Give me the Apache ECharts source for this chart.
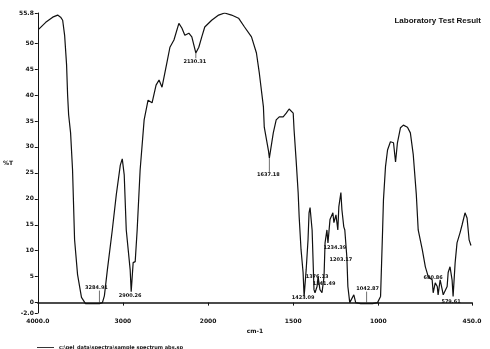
<!DOCTYPE html>
<html>
<head>
<meta charset="utf-8">
<script src="https://cdn.jsdelivr.net/npm/echarts@6/dist/echarts.min.js"></script>
<style>
  html, body { margin: 0; padding: 0; background: #fff; }
  #chart { width: 490px; height: 349px; }
</style>
</head>
<body>
<div id="chart"></div>
<script>
// spectrum (wavenumber cm-1, %T)
var wavenumbers = [3988, 3907, 3825, 3767, 3732, 3708, 3685, 3662, 3650, 3638, 3615, 3592, 3568, 3533, 3487, 3440, 3358, 3276, 3241, 3218, 3183, 3125, 3078, 3031, 3008, 2985, 2961, 2915, 2903, 2880, 2856, 2833, 2798, 2751, 2705, 2658, 2611, 2576, 2541, 2483, 2448, 2401, 2343, 2308, 2273, 2226, 2191, 2144, 2109, 2074, 2039,
  1979, 1938, 1903, 1862, 1821, 1786, 1745, 1716, 1699, 1675, 1670, 1646, 1640, 1617, 1600, 1582, 1559, 1541, 1524, 1500, 1495, 1483, 1471, 1465, 1454, 1442, 1436, 1424, 1413, 1407, 1401, 1389, 1378, 1372, 1360, 1354, 1343, 1331, 1319, 1313, 1302, 1296, 1284, 1267, 1261, 1249, 1238, 1232, 1220, 1214, 1203, 1197, 1185, 1179, 1168, 1144, 1133, 1104, 1069, 1034, 1005, 987, 975, 970, 958, 946, 929, 911, 899, 888, 870, 853, 829, 812, 795, 777, 766, 742, 724, 707, 684, 678, 666, 654, 649, 637, 625, 619, 596, 590, 579, 567, 561, 549, 538, 520, 508, 491, 479, 467, 456];
var transmittance = [52.7, 54.0, 55.0, 55.4, 55.0, 54.4, 51.5, 45.8, 40.0, 36.2, 32.7, 25.6, 12.1, 5.4, 1.0, -0.2, -0.2, -0.2, 0, 1.3, 6.3, 14.0, 20.8, 26.5, 27.7, 24.6, 14.0, 6.3, 2.1, 7.7, 7.9, 14.0, 25.6, 35.2, 39.0, 38.5, 41.9, 42.9, 41.5, 46.3, 49.2, 50.6, 53.8, 52.9, 51.5, 51.9, 51.2, 48.1, 49.2, 51.2, 53.1,
  54.4, 55.4, 55.8, 55.4, 54.8, 53.1, 51.2, 48.1, 44.2, 37.7, 33.8, 29.4, 27.9, 32.7, 35.2, 35.8, 35.8, 36.5, 37.3, 36.5, 33.3, 27.5, 21.2, 16.5, 10.2, 5.8, 1.2, 6.3, 12.1, 17.3, 18.3, 14.0, 2.5, 1.9, 3.1, 5.0, 2.5, 1.9, 5.0, 11.5, 14.0, 11.5, 16.0, 17.3, 15.4, 16.9, 14.0, 18.5, 21.2, 17.9, 14.6, 14.0, 8.8, 3.1, 0, 1.5, 0, -0.2, -0.2, -0.2, 0, 1.2, 14.0, 19.8, 26.2, 29.4, 31.0, 30.8, 27.1, 30.8, 33.7, 34.2, 33.8, 32.7, 28.5, 20.8, 14.0, 10.2, 6.9, 5.0, 4.4, 1.9, 3.8, 3.1, 1.5, 4.4, 2.5, 1.5, 3.1, 5.8, 6.9, 4.4, 1.2, 7.7, 11.5, 13.5, 15.0, 17.3, 16.3, 12.1, 11.0];

// peak annotations: text, text position, and tick from curve (null = no tick)
var peakLabels = ['3284.91', '2900.26', '2130.31', '1637.18', '1423.09', '1376.13', '1341.49', '1234.39', '1203.17', '1042.87', '680.86', '579.61'];
var peakTextWn = [3311, 2915, 2156, 1646, 1442, 1360, 1319, 1255, 1220, 1063, 678, 573];
var peakTextT = [2.9, 1.3, 46.5, 24.6, 1.0, 5.0, 3.7, 10.6, 8.3, 2.7, 4.8, 0.2];
var peakTickWn = [3276, null, 2144, 1640, null, null, null, null, null, 1069, null, null];
var peakTickT = [-0.2, null, 48.1, 27.9, null, null, null, null, null, -0.2, null, null];

var xTickWn = [4000, 3000, 2000, 1500, 1000, 450];
var xTickText = ['4000.0', '3000', '2000', '1500', '1000', '450.0'];
var yTicks = [-2, 0, 5, 10, 15, 20, 25, 30, 35, 40, 45, 50, 55.8];

var fileName = 'c:\\pel_data\\spectra\\sample spectrum abs.sp';

// axis is 1x above 2000 cm-1 and 2x below it
function toU(wn) {
	return wn >= 2000 ? 4000 - wn : 2000 + (2000 - wn) * 2;
}

var chart = echarts.init(document.getElementById('chart'));

var lineData = wavenumbers.map(function (wn, i) {
	return [toU(wn), transmittance[i]];
});
var peakData = peakLabels.map(function (txt, i) {
	return [toU(peakTextWn[i]), peakTextT[i], peakTickWn[i] == null ? null : toU(peakTickWn[i]), peakTickT[i], txt];
});
var xTickU = xTickWn.map(toU);

var option = {
	animation: false,
	backgroundColor: '#fff',
	title: {
		text: 'Laboratory Test Result',
		right: 4,
		top: 12,
		textStyle: { fontSize: 8, fontWeight: 'bold', color: '#111', fontFamily: 'Liberation Sans' }
	},
	legend: {
		left: 32,
		top: 340,
		itemWidth: 17,
		itemHeight: 6,
		itemGap: 4,
		data: [{ name: fileName, icon: 'path://M0,5L20,5L20,6L0,6Z' }],
		textStyle: { fontSize: 5, fontWeight: 'bold', color: '#111', fontFamily: 'DejaVu Sans' }
	},
	grid: { left: 35, right: 18, top: 13, bottom: 36 },
	xAxis: {
		type: 'value',
		min: 0,
		max: 5100,
		name: 'cm-1',
		nameLocation: 'middle',
		nameGap: 14,
		nameTextStyle: { fontSize: 6, fontWeight: 'bold', color: '#111', fontFamily: 'DejaVu Sans' },
		axisLine: { lineStyle: { color: '#111', width: 1.5 } },
		axisTick: { length: 3, customValues: xTickU, lineStyle: { color: '#111' } },
		axisLabel: {
			customValues: xTickU,
			fontSize: 6,
			fontWeight: 'bold',
			color: '#111',
			margin: 5,
			fontFamily: 'DejaVu Sans',
			formatter: function (v) {
				var i = xTickU.indexOf(v);
				return i >= 0 ? xTickText[i] : '';
			}
		},
		splitLine: { show: false }
	},
	yAxis: {
		type: 'value',
		min: -2,
		max: 55.8,
		name: '%T',
		nameLocation: 'middle',
		nameRotate: 0,
		nameGap: 19,
		nameTextStyle: { fontSize: 6, fontWeight: 'bold', color: '#111', fontFamily: 'DejaVu Sans' },
		axisLine: { show: true, lineStyle: { color: '#111', width: 1 } },
		axisTick: { show: true, length: 3, customValues: yTicks, lineStyle: { color: '#111' } },
		axisLabel: {
			customValues: yTicks,
			fontSize: 6,
			fontWeight: 'bold',
			color: '#111',
			margin: 4,
			fontFamily: 'DejaVu Sans',
			formatter: function (v) {
				if (v === -2) return '-2.0';
				if (v === 55.8) return '55.8';
				return String(v);
			}
		},
		splitLine: { show: false }
	},
	series: [{
		name: fileName,
		type: 'line',
		data: lineData,
		showSymbol: false,
		symbol: 'none',
		lineStyle: { color: '#111', width: 1.2 },
		itemStyle: { color: '#111' }
	}, {
		type: 'custom',
		data: peakData,
		silent: true,
		renderItem: function (params, api) {
			var p = api.coord([api.value(0), api.value(1)]);
			var children = [{
				type: 'text',
				x: p[0],
				y: p[1],
				style: {
					text: api.value(4),
					fontSize: 5,
					fontWeight: 'bold',
					fontFamily: 'DejaVu Sans',
					fill: '#111',
					align: 'center',
					verticalAlign: 'middle'
				}
			}];
			var tickU = api.value(2);
			if (tickU != null && !isNaN(tickU)) {
				var a = api.coord([tickU, api.value(3)]);
				var endY = a[1] < p[1] ? p[1] - 3 : p[1] + 3;
				children.push({
					type: 'line',
					shape: { x1: a[0], y1: a[1], x2: a[0], y2: endY },
					style: { stroke: '#333', lineWidth: 0.7 }
				});
			}
			return { type: 'group', children: children };
		}
	}]
};

chart.setOption(option);
</script>
</body>
</html>
